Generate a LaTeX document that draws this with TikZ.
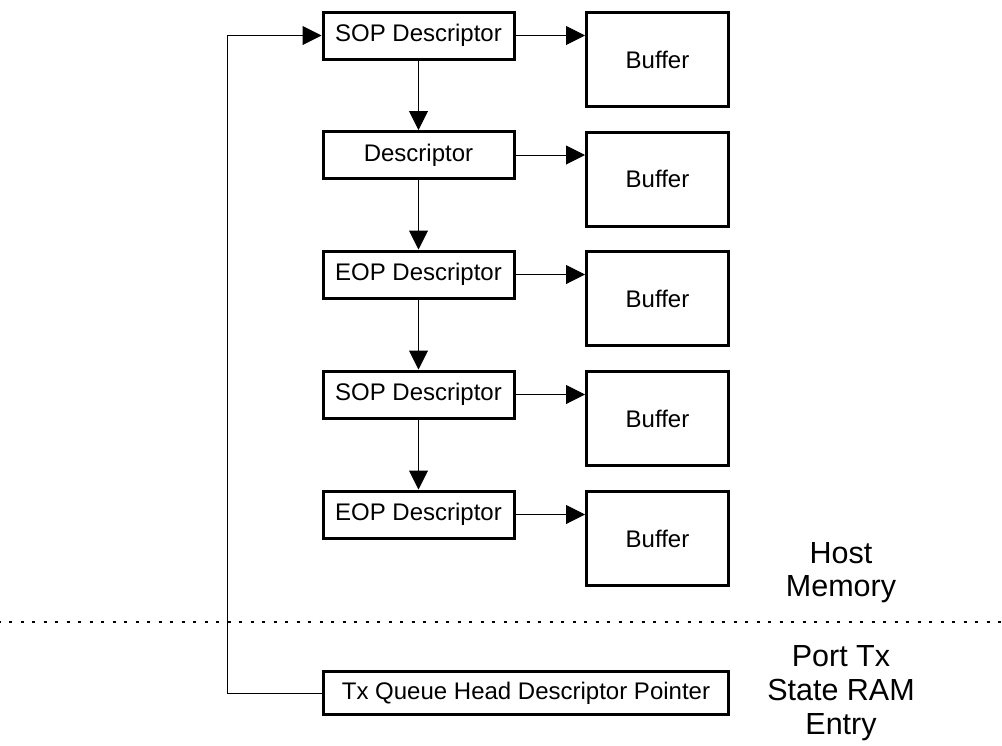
\documentclass[tikz,border=0pt]{standalone}
\usepackage{fontspec}
\setmainfont{Liberation Sans}
\usetikzlibrary{arrows.meta}
\begin{document}
\begin{tikzpicture}[x=1pt,y=-1pt,
  box/.style={draw, line width=3pt, inner sep=0pt, font=\fontsize{24}{28}\selectfont},
  desc/.style={box, minimum width=191pt, minimum height=47pt},
  buf/.style={box, minimum width=142pt, minimum height=94pt},
  conn/.style={line width=1pt, -{Triangle[length=19pt,width=19pt]}},
  region/.style={align=center, inner sep=0pt, anchor=north},
  sep/.style={line width=2pt, dash pattern=on 3pt off 8.5pt, dash phase=-9pt}
]
\useasboundingbox (0,0) rectangle (1002,745);

\node[desc] (d1) at (418.5,35.5) {SOP Descriptor};
\node[desc] (d2) at (418.5,155) {Descriptor};
\node[desc] (d3) at (418.5,274.5) {EOP Descriptor};
\node[desc] (d4) at (418.5,394.5) {SOP Descriptor};
\node[desc] (d5) at (418.5,514.5) {EOP Descriptor};

\node[buf] (b1) at (657.5,59.5) {Buffer};
\node[buf] (b2) at (657.5,179) {Buffer};
\node[buf] (b3) at (657.5,298.5) {Buffer};
\node[buf] (b4) at (657.5,418.5) {Buffer};
\node[buf] (b5) at (657.5,538.5) {Buffer};

\node[box, minimum width=405pt, minimum height=43pt] (tx) at (526,693) {Tx Queue Head Descriptor Pointer};

\foreach \i in {1,...,5} {
  \draw[conn] (d\i.east) -- (b\i.west |- d\i.east);
}
\draw[conn] (d1) -- (d2);
\draw[conn] (d2) -- (d3);
\draw[conn] (d3) -- (d4);
\draw[conn] (d4) -- (d5);

\coordinate (loopx) at (227,0);
\draw[conn] (tx.west) -- (tx.west -| loopx) |- (d1.west);

\coordinate (sepL) at (0,622);
\coordinate (sepR) at (1002,622);
\draw[sep] (sepL) -- (sepR);

\node[region, font=\fontsize{30.5}{33}\selectfont] (host) at (841,542.7) {Host\\Memory};
\node[region, font=\fontsize{30.5}{34}\selectfont] (port) at (841,645.2) {Port Tx\\State RAM\\Entry};
\end{tikzpicture}
\end{document}
